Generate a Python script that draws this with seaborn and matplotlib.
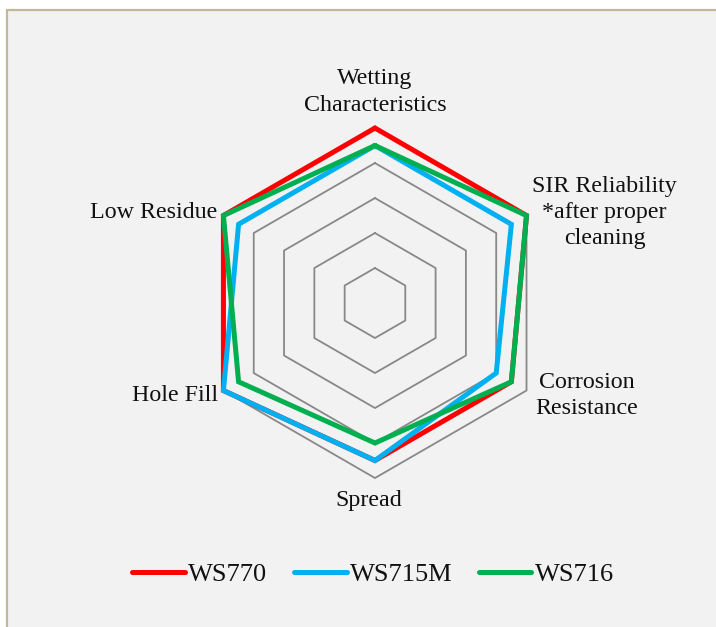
import numpy as np
import pandas as pd
import matplotlib
matplotlib.use("Agg")
import matplotlib.pyplot as plt
import seaborn as sns
from matplotlib.patches import Rectangle

# ---- data ----
categories = ["Wetting\nCharacteristics", "SIR Reliability\n*after proper\ncleaning",
              "Corrosion\nResistance", "Spread", "Hole Fill", "Low Residue"]
series_names = ["WS770", "WS715M", "WS716"]
ws770 = [5.0, 5.0, 4.5, 4.5, 5.0, 5.0]
ws715m = [4.5, 4.5, 4.0, 4.5, 5.0, 4.5]
ws716 = [4.5, 5.0, 4.5, 4.0, 4.5, 5.0]
ring_levels = [1, 2, 3, 4, 5]
colors = ["#ff0000", "#00b0f0", "#00b050"]

sns.set_theme(style="white")
plt.rcParams["font.family"] = ["Liberation Serif", "DejaVu Serif"]

DPI = 100
fig = plt.figure(figsize=(7.16, 6.27), dpi=DPI)
fig.patch.set_facecolor("white")
# chart area background with border (right/bottom cut off)
bg = Rectangle((7.5 / 716, -0.05), 1.1, (1 - 9.5 / 627) + 0.05,
               transform=fig.transFigure, facecolor="#f2f2f2",
               edgecolor="#c3b799", linewidth=1.6, zorder=-10)
fig.add_artist(bg)

ax = fig.add_axes([0.2793, 0.2376, 0.4888, 0.5582], projection="polar")
ax.set_zorder(1)
ax.set_facecolor("none")
ax.set_theta_zero_location("N")
ax.set_theta_direction(-1)

n = len(categories)
theta = np.arange(n) * 2 * np.pi / n
theta_closed = np.append(theta, 2 * np.pi)

# hexagonal grid rings
for lv in ring_levels:
    ax.plot(theta_closed, [lv] * (n + 1), color="#888888", lw=1.3, zorder=1, clip_on=False)

rows = []
for name, vals in zip(series_names, [ws770, ws715m, ws716]):
    vv = list(vals) + [vals[0]]
    for t, v in zip(theta_closed, vv):
        rows.append({"theta": t, "value": v, "series": name})
df = pd.DataFrame(rows)

sns.lineplot(data=df, x="theta", y="value", hue="series", hue_order=series_names,
             palette=colors, sort=False, estimator=None, lw=3.6, ax=ax,
             clip_on=False, zorder=3, solid_joinstyle="miter", solid_capstyle="round")

ax.set_ylim(0, 5)
ax.set_xticks([])
ax.set_yticks([])
ax.grid(False)
ax.spines["polar"].set_visible(False)
ax.set_xlabel("")
ax.set_ylabel("")

fs = 17.3
px = 72 / DPI
label_specs = [
    ((0, 36), "center"),
    ((78, 3), "center"),
    ((60, -5), "center"),
    ((-6, -22), "center"),
    ((-5, -5), "right"),
    ((-6, 3), "right"),
]
for t, lab, ((dx, dy), ha) in zip(theta, categories, label_specs):
    ax.annotate(lab, xy=(t, 5), xytext=(dx * px, dy * px), textcoords="offset points",
                ha=ha, va="center", fontsize=fs, color="#111111", linespacing=1.33,
                annotation_clip=False)

handles, labels = ax.get_legend_handles_labels()
ax.get_legend().remove()
for h in handles:
    h.set_linewidth(3.6)
    h.set_solid_capstyle("round")
leg = fig.legend(handles, labels, loc="center", bbox_to_anchor=(0.521, 0.0845), ncol=3,
                 frameon=False, fontsize=19, handlelength=2.0, handletextpad=0.12,
                 columnspacing=1.0, borderpad=0)
leg.set_zorder(2)
for txt in leg.get_texts():
    txt.set_color("#111111")

fig.savefig("out.png", dpi=DPI, facecolor=fig.get_facecolor())
